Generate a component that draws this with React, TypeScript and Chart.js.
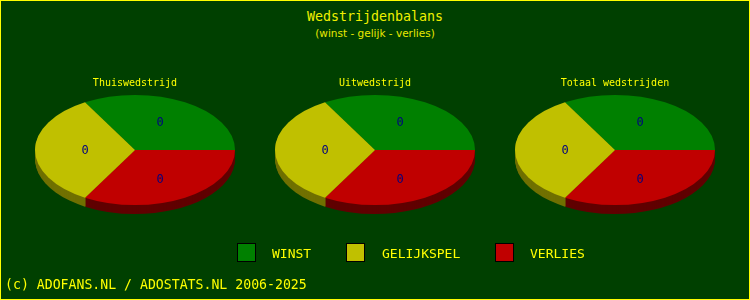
import React, { useEffect, useRef } from "react";
import { Chart, registerables } from "chart.js";

Chart.register(...registerables);

const chartTitle = "Wedstrijdenbalans";
const chartSubtitle = "(winst - gelijk - verlies)";
const footerText = "(c) ADOFANS.NL / ADOSTATS.NL 2006-2025";

const pieTitles = ["Thuiswedstrijd", "Uitwedstrijd", "Totaal wedstrijden"];
const categories = ["WINST", "GELIJKSPEL", "VERLIES"];
const winst = [0, 0, 0];
const gelijk = [0, 0, 0];
const verlies = [0, 0, 0];

const topColors = ["#008000", "#c0c000", "#c00000"];
const sideColors = ["#004400", "#707000", "#600000"];

const SQUASH = 0.55;
const DEPTH = 9;

// Slices are drawn counter-clockwise from 3 o'clock (winst, gelijk, verlies):
// in Chart.js clockwise order that is winst, verlies, gelijk starting at -120°.
const drawOrder = [0, 2, 1];

function makeSquashPlugin(values: number[]) {
  const applySquash = (ctx: CanvasRenderingContext2D, cx: number, topY: number) => {
    ctx.translate(cx, topY);
    ctx.scale(1, SQUASH);
    ctx.translate(-cx, -topY);
  };
  return {
    id: "squash3d",
    beforeDatasetsDraw(chart: any) {
      const ctx: CanvasRenderingContext2D = chart.ctx;
      const meta = chart.getDatasetMeta(0);
      if (!meta.data.length) return;
      const a0 = meta.data[0];
      const cx = a0.x;
      const topY = a0.y - a0.outerRadius;
      for (let k = DEPTH; k >= 1; k--) {
        ctx.save();
        ctx.translate(0, k);
        applySquash(ctx, cx, topY);
        meta.data.forEach((arc: any, i: number) => {
          ctx.beginPath();
          ctx.moveTo(arc.x, arc.y);
          ctx.arc(arc.x, arc.y, arc.outerRadius, arc.startAngle, arc.endAngle);
          ctx.closePath();
          ctx.fillStyle = sideColors[drawOrder[i]];
          ctx.fill();
        });
        ctx.restore();
      }
      ctx.save();
      applySquash(ctx, cx, topY);
    },
    afterDatasetsDraw(chart: any) {
      const ctx: CanvasRenderingContext2D = chart.ctx;
      const meta = chart.getDatasetMeta(0);
      if (!meta.data.length) return;
      ctx.restore();
      const a0 = meta.data[0];
      const topY = a0.y - a0.outerRadius;
      const cyE = topY + a0.outerRadius * SQUASH;
      ctx.save();
      ctx.font = "12px 'DejaVu Sans Mono'";
      ctx.fillStyle = "#000080";
      ctx.textAlign = "center";
      ctx.textBaseline = "middle";
      meta.data.forEach((arc: any, i: number) => {
        const mid = (arc.startAngle + arc.endAngle) / 2;
        const r = arc.outerRadius * 0.5;
        const x = arc.x + r * Math.cos(mid);
        const y = cyE + r * Math.sin(mid) * 0.66;
        ctx.fillText(String(values[drawOrder[i]]), x, y + 1);
      });
      ctx.restore();
    },
  };
}

function PieChart({ index, left }: { index: number; left: number }) {
  const ref = useRef<HTMLCanvasElement>(null);
  useEffect(() => {
    if (!ref.current) return;
    const values = [winst[index], gelijk[index], verlies[index]];
    const total = values.reduce((a, b) => a + b, 0);
    const shares = values.map((v) => (total === 0 ? 1 : v));
    const chart = new Chart(ref.current, {
      type: "pie",
      data: {
        labels: drawOrder.map((i) => categories[i]),
        datasets: [
          {
            data: drawOrder.map((i) => shares[i]),
            backgroundColor: drawOrder.map((i) => topColors[i]),
            borderWidth: 0,
          },
        ],
      },
      options: {
        animation: false,
        responsive: false,
        maintainAspectRatio: false,
        rotation: -30,
        layout: { padding: 0 },
        plugins: {
          legend: { display: false },
          tooltip: { enabled: false },
          title: {
            display: true,
            text: pieTitles[index],
            color: "#ffff00",
            font: { family: "'DejaVu Sans Mono'", size: 10, weight: "normal", lineHeight: 1.2 },
            padding: { top: 7, bottom: 6 },
          },
        },
      },
      plugins: [makeSquashPlugin(values)],
    });
    return () => chart.destroy();
  }, [index]);
  return (
    <canvas
      ref={ref}
      width={240}
      height={225}
      style={{ position: "absolute", left, top: 70, width: 240, height: 225 }}
    />
  );
}

const mono = "'DejaVu Sans Mono', monospace";

export default function App() {
  const legendItems = [
    { box: 237, text: 272 },
    { box: 346, text: 382 },
    { box: 495, text: 530 },
  ];
  return (
    <div
      style={{
        position: "relative",
        width: 750,
        height: 300,
        background: "#004000",
        overflow: "hidden",
        color: "#ffff00",
      }}
    >
      <style>{"body{margin:0}"}</style>
      <div
        style={{
          position: "absolute",
          left: 0,
          top: 10,
          width: 750,
          textAlign: "center",
          font: `13.3px ${mono}`,
          color: "#f0f000",
          lineHeight: "14px",
        }}
      >
        {chartTitle}
      </div>
      <div
        style={{
          position: "absolute",
          left: 0,
          top: 27,
          width: 750,
          textAlign: "center",
          font: "10.5px 'DejaVu Sans', sans-serif",
          color: "#e8e800",
          lineHeight: "12px",
        }}
      >
        {chartSubtitle}
      </div>
      {pieTitles.map((_, i) => (
        <PieChart key={i} index={i} left={15 + i * 240} />
      ))}
      {categories.map((c, i) => (
        <React.Fragment key={c}>
          <div
            style={{
              position: "absolute",
              left: legendItems[i].box,
              top: 243,
              width: 17,
              height: 17,
              background: topColors[i],
              border: "1px solid #000000",
            }}
          />
          <div
            style={{
              position: "absolute",
              left: legendItems[i].text,
              top: 246,
              font: `13px ${mono}`,
              lineHeight: "15px",
              whiteSpace: "nowrap",
            }}
          >
            {c}
          </div>
        </React.Fragment>
      ))}
      <div
        style={{
          position: "absolute",
          left: 5,
          top: 277,
          font: `13.2px ${mono}`,
          lineHeight: "15px",
          whiteSpace: "nowrap",
        }}
      >
        {footerText}
      </div>
      <div
        style={{
          position: "absolute",
          inset: 0,
          border: "1px solid #ffff00",
          boxSizing: "border-box",
          pointerEvents: "none",
        }}
      />
    </div>
  );
}
